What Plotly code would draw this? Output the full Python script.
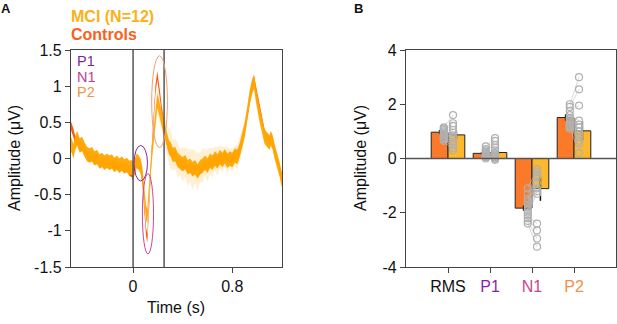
import plotly.graph_objects as go

# ---------------- Panel A data ----------------
time_s = [-0.500, -0.480, -0.465, -0.450, -0.430, -0.410, -0.390, -0.370, -0.350, -0.330,
          -0.310, -0.290, -0.270, -0.250, -0.230, -0.210, -0.190, -0.170, -0.150, -0.130,
          -0.110, -0.090, -0.070, -0.050, -0.030, -0.010, 0.000, 0.015, 0.030, 0.045,
          0.060, 0.075, 0.090, 0.105, 0.115, 0.125, 0.135, 0.150, 0.165, 0.180,
          0.195, 0.205, 0.215, 0.230, 0.245, 0.260, 0.275, 0.290, 0.305, 0.320,
          0.340, 0.360, 0.380, 0.400, 0.420, 0.440, 0.460, 0.480, 0.500, 0.520,
          0.540, 0.560, 0.580, 0.600, 0.620, 0.640, 0.660, 0.680, 0.700, 0.720,
          0.740, 0.760, 0.780, 0.800, 0.820, 0.840, 0.860, 0.880, 0.900, 0.920,
          0.940, 0.960, 0.975, 0.990, 1.005, 1.020, 1.040, 1.060, 1.080, 1.100,
          1.110, 1.125, 1.140, 1.160, 1.180, 1.200]

mci_mean = [0.20, 0.10, 0.22, 0.28, 0.18, 0.20, 0.12, 0.06, 0.04, 0.06,
            0.00, 0.02, -0.04, -0.02, -0.06, -0.03, -0.06, -0.04, -0.09, -0.06,
            -0.10, -0.07, -0.11, -0.09, -0.13, -0.12, -0.15, -0.08, -0.03, -0.06,
            -0.10, -0.22, -0.50, -0.75, -0.80, -0.60, -0.30, 0.05, 0.30, 0.60,
            0.80, 0.74, 0.64, 0.55, 0.45, 0.35, 0.22, 0.15, 0.12, 0.05,
            0.06, -0.02, -0.05, -0.08, -0.05, -0.12, -0.10, -0.15, -0.12, -0.18,
            -0.12, -0.10, -0.06, -0.10, -0.03, -0.06, 0.00, -0.04, 0.02, -0.02,
            0.03, -0.03, 0.00, -0.02, 0.04, 0.02, 0.12, 0.25, 0.40, 0.62,
            0.85, 1.00, 1.06, 0.88, 0.72, 0.60, 0.45, 0.30, 0.26, 0.22,
            0.28, 0.22, 0.10, -0.02, -0.15, -0.30]

mci_sem = [0.08, 0.08, 0.08, 0.08, 0.08, 0.08, 0.08, 0.08, 0.08, 0.08,
           0.08, 0.08, 0.08, 0.08, 0.08, 0.08, 0.08, 0.08, 0.08, 0.08,
           0.08, 0.08, 0.08, 0.08, 0.08, 0.08, 0.08, 0.10, 0.10, 0.10,
           0.10, 0.10, 0.12, 0.12, 0.12, 0.12, 0.12, 0.14, 0.15, 0.16,
           0.18, 0.18, 0.18, 0.18, 0.18, 0.20, 0.22, 0.24, 0.26, 0.22,
           0.20, 0.24, 0.18, 0.24, 0.20, 0.26, 0.22, 0.28, 0.22, 0.26,
           0.20, 0.24, 0.18, 0.22, 0.18, 0.20, 0.16, 0.20, 0.16, 0.18,
           0.14, 0.18, 0.14, 0.16, 0.14, 0.16, 0.16, 0.16, 0.14, 0.12,
           0.12, 0.12, 0.12, 0.12, 0.12, 0.12, 0.12, 0.10, 0.10, 0.10,
           0.10, 0.10, 0.10, 0.10, 0.10, 0.10]

ctrl_mean = [0.45, 0.35, 0.24, 0.26, 0.16, 0.18, 0.10, 0.05, 0.02, 0.03,
             -0.02, 0.00, -0.06, -0.04, -0.08, -0.05, -0.09, -0.07, -0.11, -0.09,
             -0.13, -0.10, -0.14, -0.12, -0.18, -0.20, -0.24, -0.14, -0.05, -0.06,
             -0.12, -0.30, -0.70, -1.02, -1.10, -0.85, -0.45, 0.10, 0.50, 0.95,
             1.15, 1.05, 0.90, 0.68, 0.50, 0.36, 0.22, 0.14, 0.10, 0.03,
             0.04, -0.04, -0.07, -0.10, -0.07, -0.14, -0.12, -0.17, -0.14, -0.20,
             -0.14, -0.12, -0.08, -0.11, -0.04, -0.07, -0.01, -0.05, 0.01, -0.03,
             0.04, -0.02, 0.01, -0.01, 0.05, 0.03, 0.12, 0.24, 0.40, 0.62,
             0.86, 1.02, 1.08, 0.95, 0.80, 0.66, 0.50, 0.34, 0.28, 0.23,
             0.28, 0.22, 0.10, -0.02, -0.15, -0.28]

mci_core = 0.10
ctrl_core = 0.06
event_times = [0.0, 0.25]
# component windows: name, t0, t1, v0, v1, colour
components = [("P1", 0.008, 0.116, -0.31, 0.18, "#7B2AA8"),
              ("N1", 0.075, 0.165, -1.32, -0.21, "#C8489A"),
              ("P2", 0.150, 0.277, 0.15, 1.42, "#F0A070")]

# ---------------- Panel B data ----------------
measures = ["RMS", "P1", "N1", "P2"]
measure_colors = ["#111111", "#8B1FA8", "#C8468C", "#F0904A"]
ctrl_bar = [0.97, 0.19, -1.83, 1.51]
ctrl_err = [0.08, 0.04, 0.10, 0.12]
mci_bar = [0.87, 0.22, -1.11, 1.02]
mci_err = [0.15, 0.05, 0.45, 0.35]

ctrl_points = [
    [1.15, 1.10, 1.05, 1.00, 0.95, 0.90, 0.85, 0.80, 0.75, 0.70, 0.65, 0.90],
    [0.45, 0.35, 0.30, 0.25, 0.20, 0.15, 0.10, 0.10, 0.05, 0.20, 0.15, 0.00],
    [-1.10, -1.30, -1.50, -1.60, -1.70, -1.80, -1.90, -2.00, -2.10, -2.20, -2.30, -2.40],
    [2.00, 1.90, 1.75, 1.60, 1.50, 1.45, 1.40, 1.30, 1.25, 1.20, 1.15, 1.10],
]
mci_points = [
    [1.60, 1.30, 1.20, 1.05, 0.95, 0.85, 0.75, 0.60, 0.50, 0.40, 0.30, 0.80],
    [0.75, 0.65, 0.50, 0.30, 0.20, 0.15, 0.10, 0.05, 0.00, -0.05, 0.00, 0.40],
    [-0.40, -0.50, -0.60, -0.70, -0.90, -1.10, -1.20, -1.30, -2.40, -2.65, -2.95, -3.25],
    [3.00, 2.55, 1.95, 1.40, 1.25, 1.15, 1.00, 0.80, 0.65, 0.55, 0.20, 0.90],
]

FONT = "Liberation Sans, Arial, sans-serif"
AX = "#444444"

fig = go.Figure()

def band(x, mean, half, color, xa="x", ya="y"):
    up = [m + h for m, h in zip(mean, half)]
    lo = [m - h for m, h in zip(mean, half)]
    fig.add_trace(go.Scatter(x=x, y=up, mode="lines", line=dict(width=0, color=color),
                             hoverinfo="skip", showlegend=False, xaxis=xa, yaxis=ya))
    fig.add_trace(go.Scatter(x=x, y=lo, mode="lines", line=dict(width=0, color=color),
                             fill="tonexty", fillcolor=color,
                             hoverinfo="skip", showlegend=False, xaxis=xa, yaxis=ya))

band(time_s, ctrl_mean, [ctrl_core] * len(time_s), "rgba(250,90,20,1)")
band(time_s, mci_mean, mci_sem, "rgba(255,190,80,0.25)")
band(time_s, mci_mean, [mci_core] * len(time_s), "rgba(255,166,0,0.95)")

xs = list(range(len(measures)))
fig.add_trace(go.Bar(x=xs, y=ctrl_bar, width=0.4, offset=-0.4, marker=dict(color="#FB7A2A", line=dict(color="#222", width=1)),
                     error_y=dict(type="data", array=ctrl_err, color="#111", thickness=1.5, width=0),
                     xaxis="x2", yaxis="y2", showlegend=False))
fig.add_trace(go.Bar(x=xs, y=mci_bar, width=0.4, offset=0.0, marker=dict(color="#FDB82E", line=dict(color="#222", width=1)),
                     error_y=dict(type="data", array=mci_err, color="#111", thickness=1.5, width=0),
                     xaxis="x2", yaxis="y2", showlegend=False))

px, py = [], []
for i in xs:
    for c, m in zip(ctrl_points[i], mci_points[i]):
        px += [i - 0.1, i + 0.12, None]
        py += [c, m, None]
fig.add_trace(go.Scatter(x=px, y=py, mode="lines+markers",
                         line=dict(color="rgba(195,195,195,0.8)", width=0.8),
                         marker=dict(symbol="circle-open", size=7, color="#B0B0B0", line=dict(width=1.2)),
                         xaxis="x2", yaxis="y2", showlegend=False, hoverinfo="skip"))

shapes = []
for t in event_times:
    shapes.append(dict(type="line", xref="x", yref="y", x0=t, x1=t, y0=-1.5, y1=1.5,
                       line=dict(color="#555", width=1.5)))
for name, t0, t1, v0, v1, col in components:
    shapes.append(dict(type="circle", xref="x", yref="y", x0=t0, x1=t1, y0=v0, y1=v1,
                       line=dict(color=col, width=1)))
shapes.append(dict(type="line", xref="x2", yref="y2", x0=-1, x1=4, y0=0, y1=0,
                   line=dict(color="#555", width=1.3)))

ann = []
def pa(text, x, y, size, color="#111", angle=0, xanchor="center"):
    ann.append(dict(text=text, x=x / 617, y=1 - y / 324, xref="paper", yref="paper",
                    showarrow=False, textangle=angle, xanchor=xanchor, yanchor="middle",
                    font=dict(family=FONT, size=size, color=color)))

pa("<b>A</b>", 6, 8, 13)
pa("<b>B</b>", 358, 8, 13)
pa("<b>MCI (N=12)</b>", 69, 16, 16, "#FBB117", xanchor="left")
pa("<b>Controls</b>", 69, 34, 16, "#F8621C", xanchor="left")
for (name, *_r, col), yy, c in zip(components, [61, 76.5, 92], ["#7B1FA2", "#C2408E", "#F0944A"]):
    pa(name, 75, yy, 14.5, c, xanchor="left")
pa("Amplitude (μV)", 15, 158, 16, angle=-90)
pa("Time (s)", 176, 307, 16)
pa("Amplitude (μV)", 361, 158, 16, angle=-90)

axis_common = dict(showline=True, mirror=True, linecolor=AX, linewidth=1.3, ticks="outside",
                   ticklen=5, tickcolor=AX, showgrid=False, zeroline=False, automargin=False,
                   tickfont=dict(family=FONT, size=16, color="#111"))

fig.update_layout(
    width=617, height=324, margin=dict(l=0, r=0, t=0, b=0, pad=0, autoexpand=False),
    paper_bgcolor="white", plot_bgcolor="white", barmode="overlay", showlegend=False,
    shapes=shapes, annotations=ann,
    xaxis=dict(domain=[71 / 617, 282 / 617], range=[-0.5, 1.2], tickvals=[0, 0.8],
               ticktext=["0", "0.8"], anchor="y", **axis_common),
    yaxis=dict(domain=[57 / 324, 274 / 324], range=[-1.5, 1.5],
               tickvals=[-1.5, -1, -0.5, 0, 0.5, 1, 1.5],
               ticktext=["-1.5", "-1", "-0.5", "0", "0.5", "1", "1.5"], anchor="x", **axis_common),
    xaxis2=dict(domain=[406 / 617, 616 / 617], range=[-1, 4], tickvals=xs,
                ticktext=[f"<span style='color:{c}'>{m}</span>" for m, c in zip(measures, measure_colors)],
                anchor="y2", **axis_common),
    yaxis2=dict(domain=[57 / 324, 274 / 324], range=[-4, 4], tickvals=[-4, -2, 0, 2, 4],
                ticktext=["-4", "-2", "0", "2", "4"], anchor="x2", **axis_common),
)

fig.write_html("out.html", config={"displayModeBar": False},
               post_script="document.body.style.margin='0';document.body.style.overflow='hidden';")
